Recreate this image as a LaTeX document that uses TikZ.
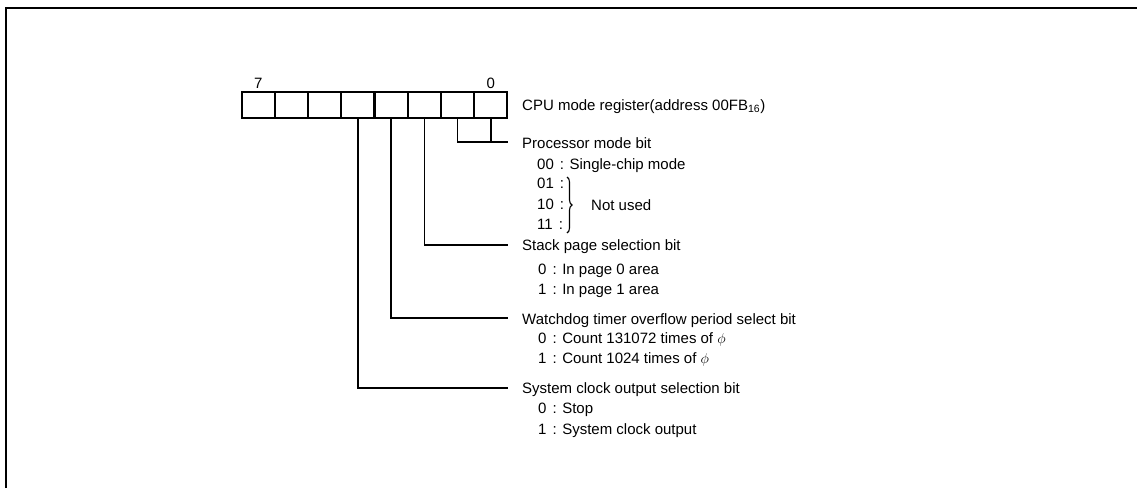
\documentclass[tikz,border=0pt]{standalone}
\usepackage{fontspec}
\setmainfont{Liberation Sans}
\usetikzlibrary{decorations.pathreplacing}
\newcommand\cln{\hspace{6pt}:}
\tikzset{
  cell/.style={draw, line width=2.2pt, minimum width=33.2pt, minimum height=26.6pt, inner sep=0pt, outer sep=0pt},
  lbl/.style={anchor=base west, inner sep=0pt, font=\fontsize{15}{18}\selectfont},
  conn/.style={line width=1.6pt},
}
\begin{document}
\begin{tikzpicture}[x=1pt, y=-1pt]
\useasboundingbox (0,0) rectangle (1137,488);
\draw[line width=2pt](6,488)--(6,8)--(1137,8);
% register cells, bit 7 on the left
\foreach \i in {0,...,7}
  \node[cell](c\i) at (258.3+33.2*\i,105){};
\node[lbl, anchor=south, yshift=3pt](msb) at (c0.north){7};
\node[lbl, anchor=south, yshift=3pt](lsb) at (c7.north){0};
\node[lbl](reg) at (522,110){CPU mode register(address 00FB\textsubscript{16})};

\coordinate(e0) at (508,141.7);
\coordinate(e2) at (508,245);
\coordinate(e3) at (508,318);
\coordinate(e4) at (508,388);
\draw[conn](c6.south)|-(e0);
\draw[conn](c7.south)--(c7.south|-e0);
\draw[conn](c5.south)|-(e2);
\draw[conn](c4.south)|-(e3);
\draw[conn](c3.south)|-(e4);

% bits 1,0
\node[lbl](pm) at (522,148){Processor mode bit};
\node[lbl](pm0) at (537,169.5){00\cln{} Single-chip mode};
\node[lbl](pm1) at (537,188.5){01\cln};
\node[lbl](pm2) at (537,209.5){10\cln};
\node[lbl](pm3) at (537,229.5){11\cln};
\draw[line width=1.1pt, decorate, decoration={brace, amplitude=5pt}](567,177)--(567,233);
\node[lbl](nu) at (591,210){Not used};

% bit 2
\node[lbl](sp) at (522,250){Stack page selection bit};
\node[lbl](sp0) at (538,274.5){0\cln{} In page 0 area};
\node[lbl](sp1) at (538,294.5){1\cln{} In page 1 area};

% bit 3
\node[lbl](wd) at (522,324){Watchdog timer overflow period select bit};
\node[lbl](wd0) at (538,343.5){0\cln{} Count 131072 times of $\phi$};
\node[lbl](wd1) at (538,363.5){1\cln{} Count 1024 times of $\phi$};

% bit 4
\node[lbl](sc) at (522,393.5){System clock output selection bit};
\node[lbl](sc0) at (538,413.5){0\cln{} Stop};
\node[lbl](sc1) at (538,434){1\cln{} System clock output};

\end{tikzpicture}
\end{document}
